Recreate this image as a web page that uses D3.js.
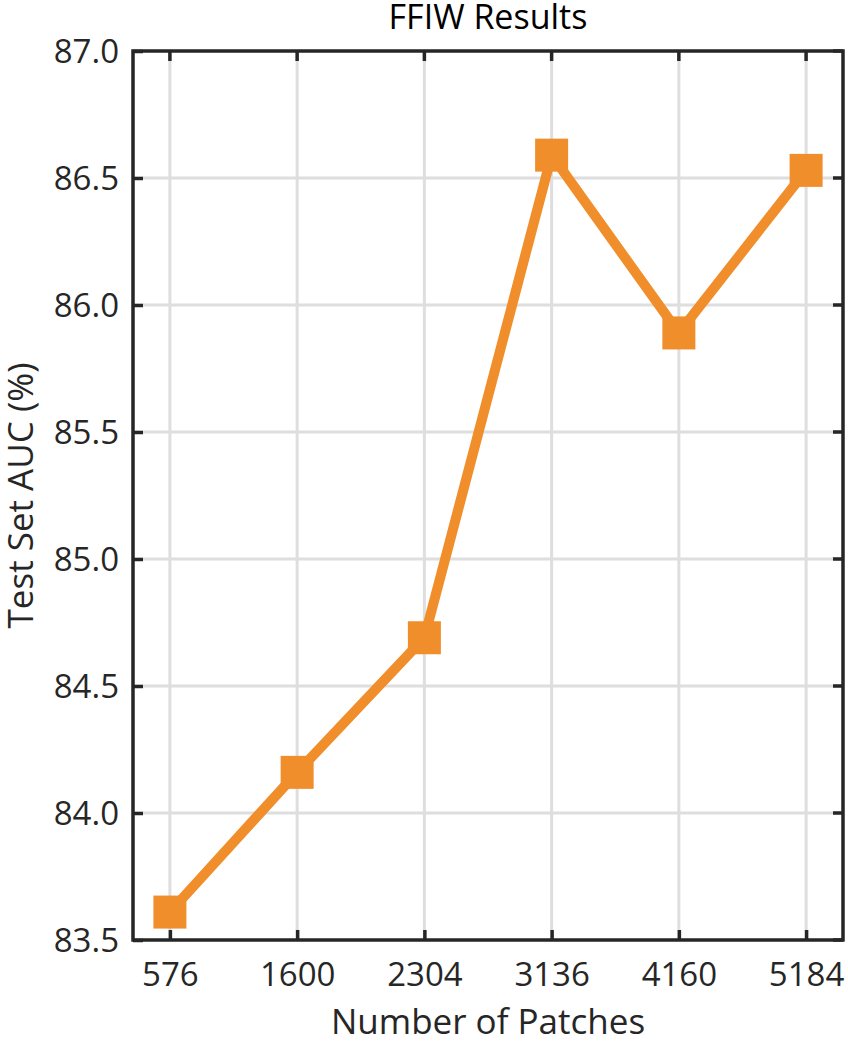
<!DOCTYPE html>
<html>
<head>
<meta charset="utf-8">
<script src="https://cdn.jsdelivr.net/npm/d3@7"></script>
<style>
  body { margin: 0; background: #fff; }
  text { font-family: "Open Sans", sans-serif; fill: #262626; }
</style>
</head>
<body>
<svg width="848" height="1044"></svg>
<script>
// data
const patches = ["576", "1600", "2304", "3136", "4160", "5184"];
const auc = [83.61, 84.16, 84.69, 86.59, 85.89, 86.53];
const yTicks = [83.5, 84.0, 84.5, 85.0, 85.5, 86.0, 86.5, 87.0];

const svg = d3.select("svg");
const margin = { top: 51, right: 5, bottom: 104, left: 133 };
const width = 848 - margin.left - margin.right;
const height = 1044 - margin.top - margin.bottom;
const orange = "#f18e2c";

const x = d3.scalePoint()
  .domain(patches)
  .range([0, width])
  .padding(0.29);

const y = d3.scaleLinear()
  .domain([83.5, 87.0])
  .range([height, 0]);

const g = svg.append("g")
  .attr("transform", "translate(" + margin.left + "," + margin.top + ")");

// grid
g.append("g").selectAll("line")
  .data(patches)
  .enter().append("line")
  .attr("x1", d => x(d)).attr("x2", d => x(d))
  .attr("y1", 0).attr("y2", height)
  .attr("stroke", "#dedede").attr("stroke-width", 3);

g.append("g").selectAll("line")
  .data(yTicks.slice(1, -1))
  .enter().append("line")
  .attr("x1", 0).attr("x2", width)
  .attr("y1", d => y(d)).attr("y2", d => y(d))
  .attr("stroke", "#dedede").attr("stroke-width", 3);

// axes (ticks inward)
const xAxis = d3.axisBottom(x).tickSize(-10).tickPadding(23);
const yAxis = d3.axisLeft(y).tickValues(yTicks).tickFormat(d3.format(".1f")).tickSize(-10).tickPadding(14);

const gx = g.append("g").attr("transform", "translate(0," + height + ")").call(xAxis);
const gy = g.append("g").call(yAxis);

[gx, gy].forEach(a => {
  a.select(".domain").remove();
  a.selectAll(".tick line").attr("stroke", "#262626").attr("stroke-width", 3.5);
  a.selectAll(".tick text").attr("font-size", 33).attr("fill", "#262626")
    .style("font-family", "'Open Sans', sans-serif");
});
gx.selectAll(".tick text").attr("dy", "0.71em");
gy.selectAll(".tick text").attr("dy", "0.36em");

// top ticks and right ticks
g.append("g").selectAll("line")
  .data(patches)
  .enter().append("line")
  .attr("x1", d => x(d)).attr("x2", d => x(d))
  .attr("y1", 0).attr("y2", 10)
  .attr("stroke", "#262626").attr("stroke-width", 3.5);
g.append("g").selectAll("line")
  .data(yTicks)
  .enter().append("line")
  .attr("x1", width - 10).attr("x2", width)
  .attr("y1", d => y(d)).attr("y2", d => y(d))
  .attr("stroke", "#262626").attr("stroke-width", 3.5);

// box
g.append("rect")
  .attr("x", 0).attr("y", 0)
  .attr("width", width).attr("height", height)
  .attr("fill", "none")
  .attr("stroke", "#262626").attr("stroke-width", 3.5);

// line
const line = d3.line()
  .x((d, i) => x(patches[i]))
  .y(d => y(d));

g.append("path")
  .datum(auc)
  .attr("d", line)
  .attr("fill", "none")
  .attr("stroke", orange)
  .attr("stroke-width", 10)
  .attr("stroke-linejoin", "miter");

const sq = 33;
g.append("g").selectAll("rect")
  .data(auc)
  .enter().append("rect")
  .attr("x", (d, i) => x(patches[i]) - sq / 2)
  .attr("y", d => y(d) - sq / 2)
  .attr("width", sq).attr("height", sq)
  .attr("fill", orange);

// labels
svg.append("text")
  .attr("x", margin.left + width / 2)
  .attr("y", 29)
  .attr("text-anchor", "middle")
  .attr("font-size", 34)
  .style("fill", "#000")
  .text("FFIW Results");

svg.append("text")
  .attr("x", margin.left + width / 2)
  .attr("y", 1034)
  .attr("text-anchor", "middle")
  .attr("font-size", 35)
  .text("Number of Patches");

svg.append("text")
  .attr("transform", "translate(33," + (margin.top + height / 2) + ") rotate(-90)")
  .attr("text-anchor", "middle")
  .attr("font-size", 35)
  .text("Test Set AUC (%)");
</script>
</body>
</html>
